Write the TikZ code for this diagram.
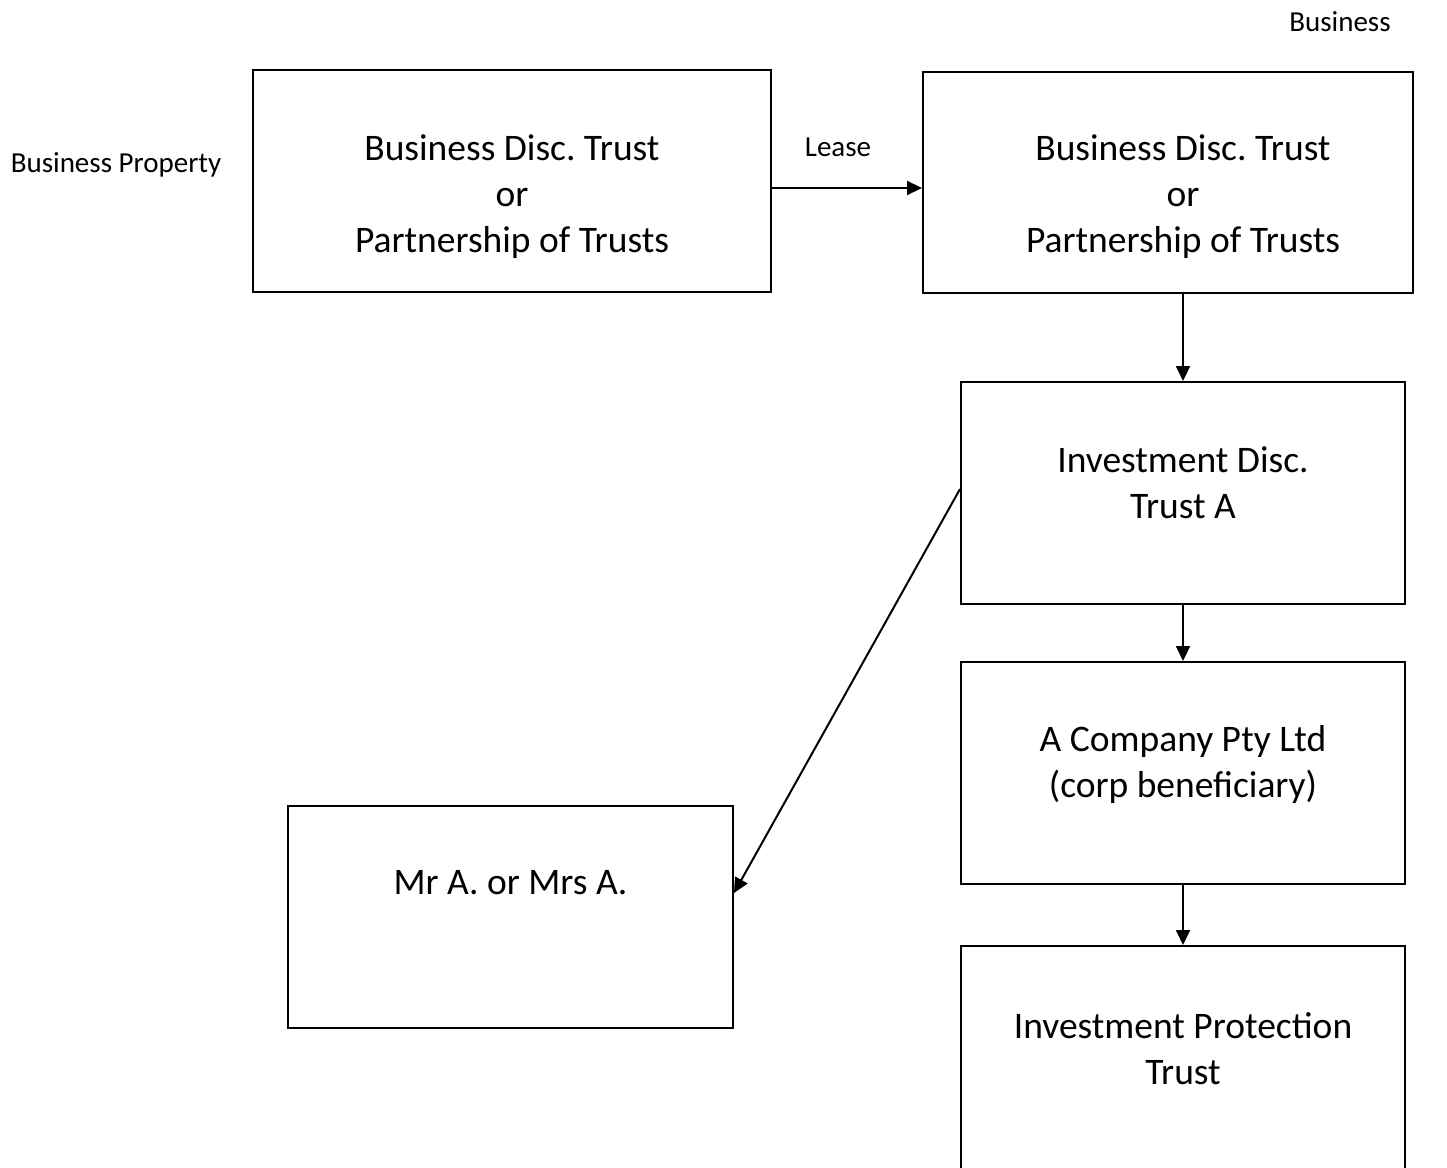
\documentclass[tikz,border=0pt]{standalone}
\usepackage{fontspec}
\setmainfont{Carlito}
\usetikzlibrary{arrows.meta}
\frenchspacing
\begin{document}
\begin{tikzpicture}[x=1pt,y=-1pt,
  box/.style={draw,line width=2pt,rectangle,inner sep=0pt},
  boxtext/.style={anchor=north,align=center,inner sep=0pt,
    font=\fontsize{37.5}{46}\selectfont},
  small/.style={inner sep=0pt,font=\fontsize{29}{34}\selectfont},
  link/.style={line width=2pt,-{Triangle[length=15pt,width=14pt]}}]
\clip (0,0) rectangle (1447,1167);
\fill[white] (0,0) rectangle (1447,1167);

% boxes
\node[box,minimum width=518pt,minimum height=222pt] (bdt1) at (512,181) {};
\node[box,minimum width=490pt,minimum height=221pt] (bdt2) at (1168,182.5) {};
\node[box,minimum width=444pt,minimum height=222pt] (inv) at (1183,493) {};
\node[box,minimum width=444pt,minimum height=222pt] (comp) at (1183,773) {};
\node[box,minimum width=444pt,minimum height=280pt] (prot) at (1183,1086) {};
\node[box,minimum width=445pt,minimum height=222pt] (mr) at (510.5,917) {};

% box texts
\node[boxtext] (t1) at (512,134) {Business Disc. Trust\\or\\Partnership of Trusts};
\node[boxtext] (t2) at (1183,134) {Business Disc. Trust\\or\\Partnership of Trusts};
\node[boxtext] (t3) at (1183,446) {Investment Disc.\\Trust A};
\node[boxtext] (t4) at (1183,725) {A Company Pty Ltd\\(corp beneficiary)};
\node[boxtext] (t5) at (1183,1012) {Investment Protection\\Trust};
\node[boxtext] (t6) at (510.5,870) {Mr A. or Mrs A.};

% free labels
\node[small] (lbus) at (1340,22) {Business};
\node[small] (lprop) at (116,165) {Business Property};
\node[small] (llease) at (838,147) {Lease};

% connectors
\draw[link] ([yshift=-7pt]bdt1.east) -- ([yshift=-7pt]bdt1.east -| bdt2.west);
\draw[link] (inv.north |- bdt2.south) -- (inv.north);
\draw[link] (inv.south) -- (comp.north);
\draw[link] (comp.south) -- (prot.north);
\draw[link] ([yshift=4pt]inv.west) -- ([yshift=24pt]mr.east);
\end{tikzpicture}
\end{document}
